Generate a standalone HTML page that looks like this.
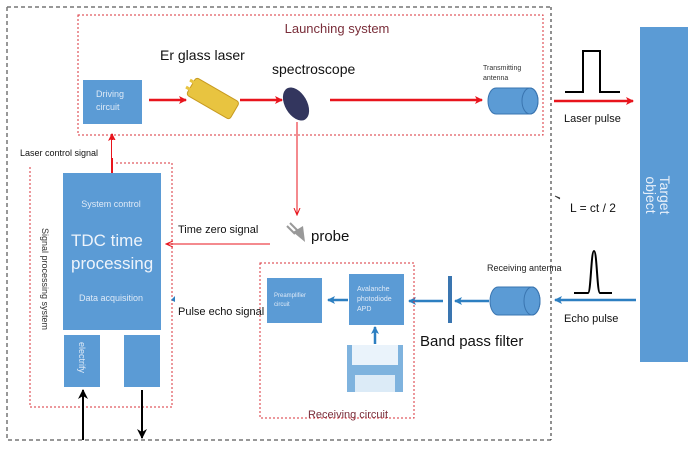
<!DOCTYPE html>
<html><head><meta charset="utf-8"><style>
html,body{margin:0;padding:0;background:#fff;}
svg{display:block;font-family:"Liberation Sans",sans-serif;}
</style></head><body>
<svg width="693" height="449" viewBox="0 0 693 449" xmlns="http://www.w3.org/2000/svg">
<defs>
<marker id="ar" markerWidth="8" markerHeight="8" refX="7" refY="4" orient="auto" markerUnits="userSpaceOnUse"><path d="M0,0 L8,4 L0,8 L2,4z" fill="#e8141c"/></marker>
<marker id="ab" markerWidth="8" markerHeight="8" refX="7" refY="4" orient="auto" markerUnits="userSpaceOnUse"><path d="M0,0 L8,4 L0,8 L2,4z" fill="#2d7fc1"/></marker>
<marker id="ak" markerWidth="10" markerHeight="10" refX="9" refY="5" orient="auto" markerUnits="userSpaceOnUse"><path d="M0,0 L10,5 L0,10 L3,5z" fill="#000"/></marker>
<marker id="at" markerWidth="8" markerHeight="8" refX="7" refY="4" orient="auto" markerUnits="userSpaceOnUse"><path d="M0,1 L7,4 L0,7" fill="none" stroke="#e8141c" stroke-width="1"/></marker>
</defs>
<rect width="693" height="449" fill="#fff"/>
<!-- outer dashed -->
<path d="M7,7 H551 M7,7 V440 H551" fill="none" stroke="#777" stroke-width="1.5" stroke-dasharray="4,3"/>
<line x1="551" y1="7" x2="551" y2="440" stroke="#222" stroke-width="1" stroke-dasharray="3,3"/>
<!-- launching box -->
<rect x="78" y="15" width="465" height="120" fill="none" stroke="#d9303a" stroke-width="1" stroke-dasharray="2,2"/>
<rect x="275" y="17" width="125" height="22" fill="#fff"/>
<text x="337" y="33" font-size="13" fill="#7a2e3a" text-anchor="middle">Launching system</text>
<rect x="83" y="80" width="59" height="44" fill="#5b9bd5"/>
<text x="96" y="97" font-size="9" fill="#dfeaf7">Driving</text>
<text x="96" y="110" font-size="9" fill="#dfeaf7">circuit</text>
<line x1="149" y1="100" x2="186" y2="100" stroke="#e8141c" stroke-width="2.5" marker-end="url(#ar)"/>
<text x="160" y="60" font-size="14" fill="#111">Er glass laser</text>
<!-- laser -->
<g transform="rotate(30 212 98)">
<rect x="188" y="88" width="50" height="20" rx="3" fill="#e8c440" stroke="#c79a20"/>
<rect x="184" y="92" width="6" height="3" fill="#e8c440"/><rect x="184" y="100" width="6" height="3" fill="#e8c440"/>
</g>
<line x1="240" y1="100" x2="282" y2="100" stroke="#e8141c" stroke-width="2.5" marker-end="url(#ar)"/>
<text x="272" y="74" font-size="14" fill="#111">spectroscope</text>
<ellipse cx="296" cy="104" rx="11" ry="18" transform="rotate(-30 296 104)" fill="#33365e"/>
<line x1="330" y1="100" x2="482" y2="100" stroke="#e8141c" stroke-width="2.5" marker-end="url(#ar)"/>
<text x="483" y="70" font-size="7" fill="#333">Transmitting</text>
<text x="483" y="80" font-size="7" fill="#333">antenna</text>
<path d="M496,88 H530 A8,13 0 0 1 530,114 H496 A8,13 0 0 1 496,88z" fill="#5b9bd5" stroke="#3a75b0"/>
<ellipse cx="530" cy="101" rx="8" ry="13" fill="none" stroke="#3a75b0"/>
<!-- outgoing -->
<line x1="554" y1="101" x2="633" y2="101" stroke="#e8141c" stroke-width="2.5" marker-end="url(#ar)"/>
<path d="M565,92 H583 V51 H600 V92 H620" fill="none" stroke="#000" stroke-width="2"/>
<text x="564" y="122" font-size="11" fill="#111">Laser pulse</text>
<rect x="640" y="27" width="48" height="335" fill="#5b9bd5"/>
<text transform="translate(660,195) rotate(90)" font-size="14" fill="#e8f0fa" text-anchor="middle">Target</text>
<text transform="translate(646,195) rotate(90)" font-size="14" fill="#e8f0fa" text-anchor="middle">object</text>
<text x="570" y="212" font-size="12" fill="#111">L = ct / 2</text>
<path d="M560,199 l-5,-3 M555,196 l5,2" stroke="#333" stroke-width="0.8"/>
<!-- echo -->
<line x1="636" y1="300" x2="555" y2="300" stroke="#2d7fc1" stroke-width="2.5" marker-end="url(#ab)"/>
<path d="M574,293 H588 C591,293 591,251 594,251 C597,251 597,293 600,293 H612" fill="none" stroke="#000" stroke-width="2"/>
<text x="564" y="322" font-size="11" fill="#111">Echo pulse</text>
<text x="487" y="271" font-size="9" fill="#222">Receiving antenna</text>
<path d="M498,287 H532 A8,14 0 0 1 532,315 H498 A8,14 0 0 1 498,287z" fill="#5b9bd5" stroke="#3a75b0"/>
<ellipse cx="532" cy="301" rx="8" ry="14" fill="none" stroke="#3a75b0"/>
<line x1="489" y1="301" x2="455" y2="301" stroke="#2d7fc1" stroke-width="2.5" marker-end="url(#ab)"/>
<rect x="448" y="276" width="4" height="47" fill="#3a75b0"/>
<line x1="443" y1="301" x2="409" y2="301" stroke="#2d7fc1" stroke-width="2.5" marker-end="url(#ab)"/>
<text x="420" y="346" font-size="15" fill="#111">Band pass filter</text>
<!-- receiving circuit -->
<rect x="260" y="263" width="154" height="155" fill="none" stroke="#d9303a" stroke-width="1" stroke-dasharray="2,2"/>
<rect x="349" y="274" width="55" height="51" fill="#5b9bd5"/>
<text x="357" y="291" font-size="7" fill="#dfeaf7">Avalanche</text>
<text x="357" y="301" font-size="7" fill="#dfeaf7">photodiode</text>
<text x="357" y="311" font-size="7" fill="#dfeaf7">APD</text>
<rect x="267" y="278" width="55" height="45" fill="#5b9bd5"/>
<text x="274" y="297" font-size="6" fill="#dfeaf7">Preamplifier</text>
<text x="274" y="306" font-size="6" fill="#dfeaf7">circuit</text>
<line x1="348" y1="300" x2="328" y2="300" stroke="#2d7fc1" stroke-width="2.5" marker-end="url(#ab)"/>
<line x1="375" y1="344" x2="375" y2="327" stroke="#2d7fc1" stroke-width="2.5" marker-end="url(#ab)"/>
<rect x="347" y="345" width="56" height="47" fill="#7fb3de"/>
<rect x="352" y="345" width="46" height="20" fill="#eaf3fb"/>
<rect x="355" y="375" width="40" height="17" fill="#dcebf7"/>
<text x="348" y="418" font-size="11" fill="#7a2e3a" text-anchor="middle">Receiving circuit</text>
<!-- probe -->
<line x1="297" y1="122" x2="297" y2="215" stroke="#e8141c" stroke-width="1" marker-end="url(#at)"/>
<path d="M287,226 l8,8 M290,223 l8,8" stroke="#999" stroke-width="2"/>
<path d="M293,232 l10,-6 l2,16 z" fill="#999"/>
<text x="311" y="241" font-size="15" fill="#111">probe</text>
<text x="178" y="233" font-size="11" fill="#111">Time zero signal</text>
<line x1="270" y1="244" x2="166" y2="244" stroke="#e8141c" stroke-width="1" marker-end="url(#at)"/>
<!-- signal processing -->
<path d="M30,167 V407 H172 V163 H115" fill="none" stroke="#d9303a" stroke-width="1" stroke-dasharray="2,2"/>
<text transform="translate(42,228) rotate(90)" font-size="9" fill="#333">Signal processing system</text>
<text x="20" y="156" font-size="9" fill="#111">Laser control signal</text>
<line x1="112" y1="173" x2="112" y2="134" stroke="#e8141c" stroke-width="2" marker-end="url(#ar)"/>
<rect x="112" y="140" width="4" height="18" fill="#fff"/>
<rect x="63" y="173" width="98" height="157" fill="#5b9bd5"/>
<text x="111" y="207" font-size="9" fill="#dfeaf7" text-anchor="middle">System control</text>
<text x="71" y="246" font-size="17" fill="#eef4fb">TDC time</text>
<text x="71" y="269" font-size="17" fill="#eef4fb">processing</text>
<text x="111" y="301" font-size="9" fill="#dfeaf7" text-anchor="middle">Data acquisition</text>
<rect x="64" y="335" width="36" height="52" fill="#5b9bd5"/>
<text transform="translate(79,342) rotate(90)" font-size="9" fill="#dfeaf7">electrify</text>
<rect x="124" y="335" width="36" height="52" fill="#5b9bd5"/>
<line x1="83" y1="440" x2="83" y2="390" stroke="#000" stroke-width="2" marker-end="url(#ak)"/>
<line x1="142" y1="390" x2="142" y2="438" stroke="#000" stroke-width="2" marker-end="url(#ak)"/>
<text x="178" y="315" font-size="11" fill="#111">Pulse echo signal</text>
<path d="M175,296 l-4,4 l4,2z" fill="#2d7fc1"/>
</svg>
</body></html>
